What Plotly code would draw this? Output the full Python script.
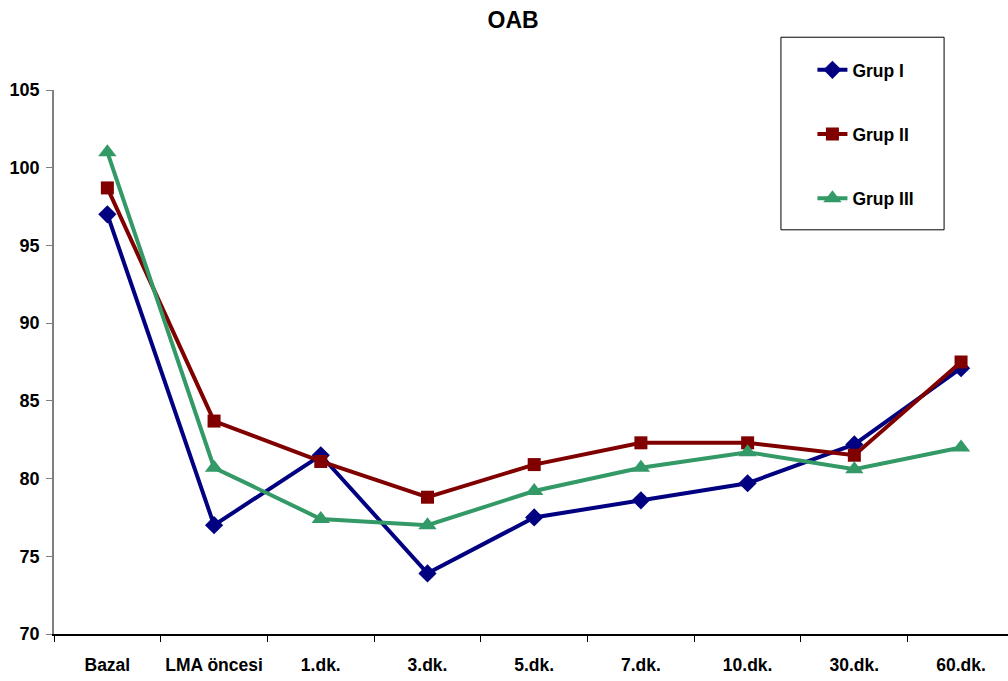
import plotly.graph_objects as go

categories = ["Bazal", "LMA öncesi", "1.dk.", "3.dk.", "5.dk.", "7.dk.", "10.dk.", "30.dk.", "60.dk."]
grup_1 = [97.0, 77.0, 81.5, 73.9, 77.5, 78.6, 79.7, 82.2, 87.1]
grup_2 = [98.7, 83.7, 81.1, 78.8, 80.9, 82.3, 82.3, 81.5, 87.5]
grup_3 = [101.0, 80.7, 77.4, 77.0, 79.2, 80.7, 81.7, 80.6, 82.0]
y_ticks = [70, 75, 80, 85, 90, 95, 100, 105]

series = [
    ("Grup I", grup_1, "#000080", "diamond", 14),
    ("Grup II", grup_2, "#800000", "square", 13),
    ("Grup III", grup_3, "#339966", "triangle-up", 16),
]

font_family = "Liberation Sans, Arial, sans-serif"

fig = go.Figure()
for name, values, color, symbol, size in series:
    fig.add_trace(go.Scatter(
        x=categories, y=values, name=f"<b>{name}</b>", mode="lines+markers",
        legendgroup=name,
        line=dict(color=color, width=4),
        marker=dict(symbol=symbol, size=size, color=color),
    ))

fig.update_layout(
    width=1008, height=681,
    margin=dict(l=54, r=0, t=90, b=47),
    paper_bgcolor="white", plot_bgcolor="white",
    font=dict(family=font_family, color="black", size=14),
    title=dict(text="<b>OAB</b>", x=0.509, xanchor="center", y=0.971, yanchor="middle",
               font=dict(size=23, family=font_family)),
    showlegend=True,
    legend=dict(
        x=0.795, y=1.07, xanchor="left", yanchor="top",
        bgcolor="rgba(0,0,0,0)", borderwidth=0,
        tracegroupgap=38.5,
        font=dict(size=17.5, family=font_family),
        itemwidth=30,
    ),
    shapes=[dict(
        type="rect", xref="paper", yref="paper",
        x0=0.762, x1=0.933, y0=0.743, y1=1.097,
        line=dict(color="black", width=1), fillcolor="rgba(0,0,0,0)",
    )],
)

fig.update_xaxes(
    type="category", range=[-0.5, 8.44],
    showline=True, linecolor="black", linewidth=1.5,
    ticks="outside", tickson="boundaries", ticklen=6, tickcolor="black",
    showgrid=False, zeroline=False,
    tickfont=dict(size=17.5, family=font_family),
    ticklabelstandoff=14,
    tickvals=categories, ticktext=[f"<b>{c}</b>" for c in categories],
)
fig.update_yaxes(
    range=[70, 105], tickvals=y_ticks, ticktext=[f"<b>{v}</b>" for v in y_ticks],
    showline=True, linecolor="#808080", linewidth=1.5,
    ticks="outside", ticklen=6, tickcolor="#808080",
    showgrid=False, zeroline=False,
    tickfont=dict(size=18, family=font_family),
    ticklabelstandoff=3,
)

fig.write_html("out.html")
